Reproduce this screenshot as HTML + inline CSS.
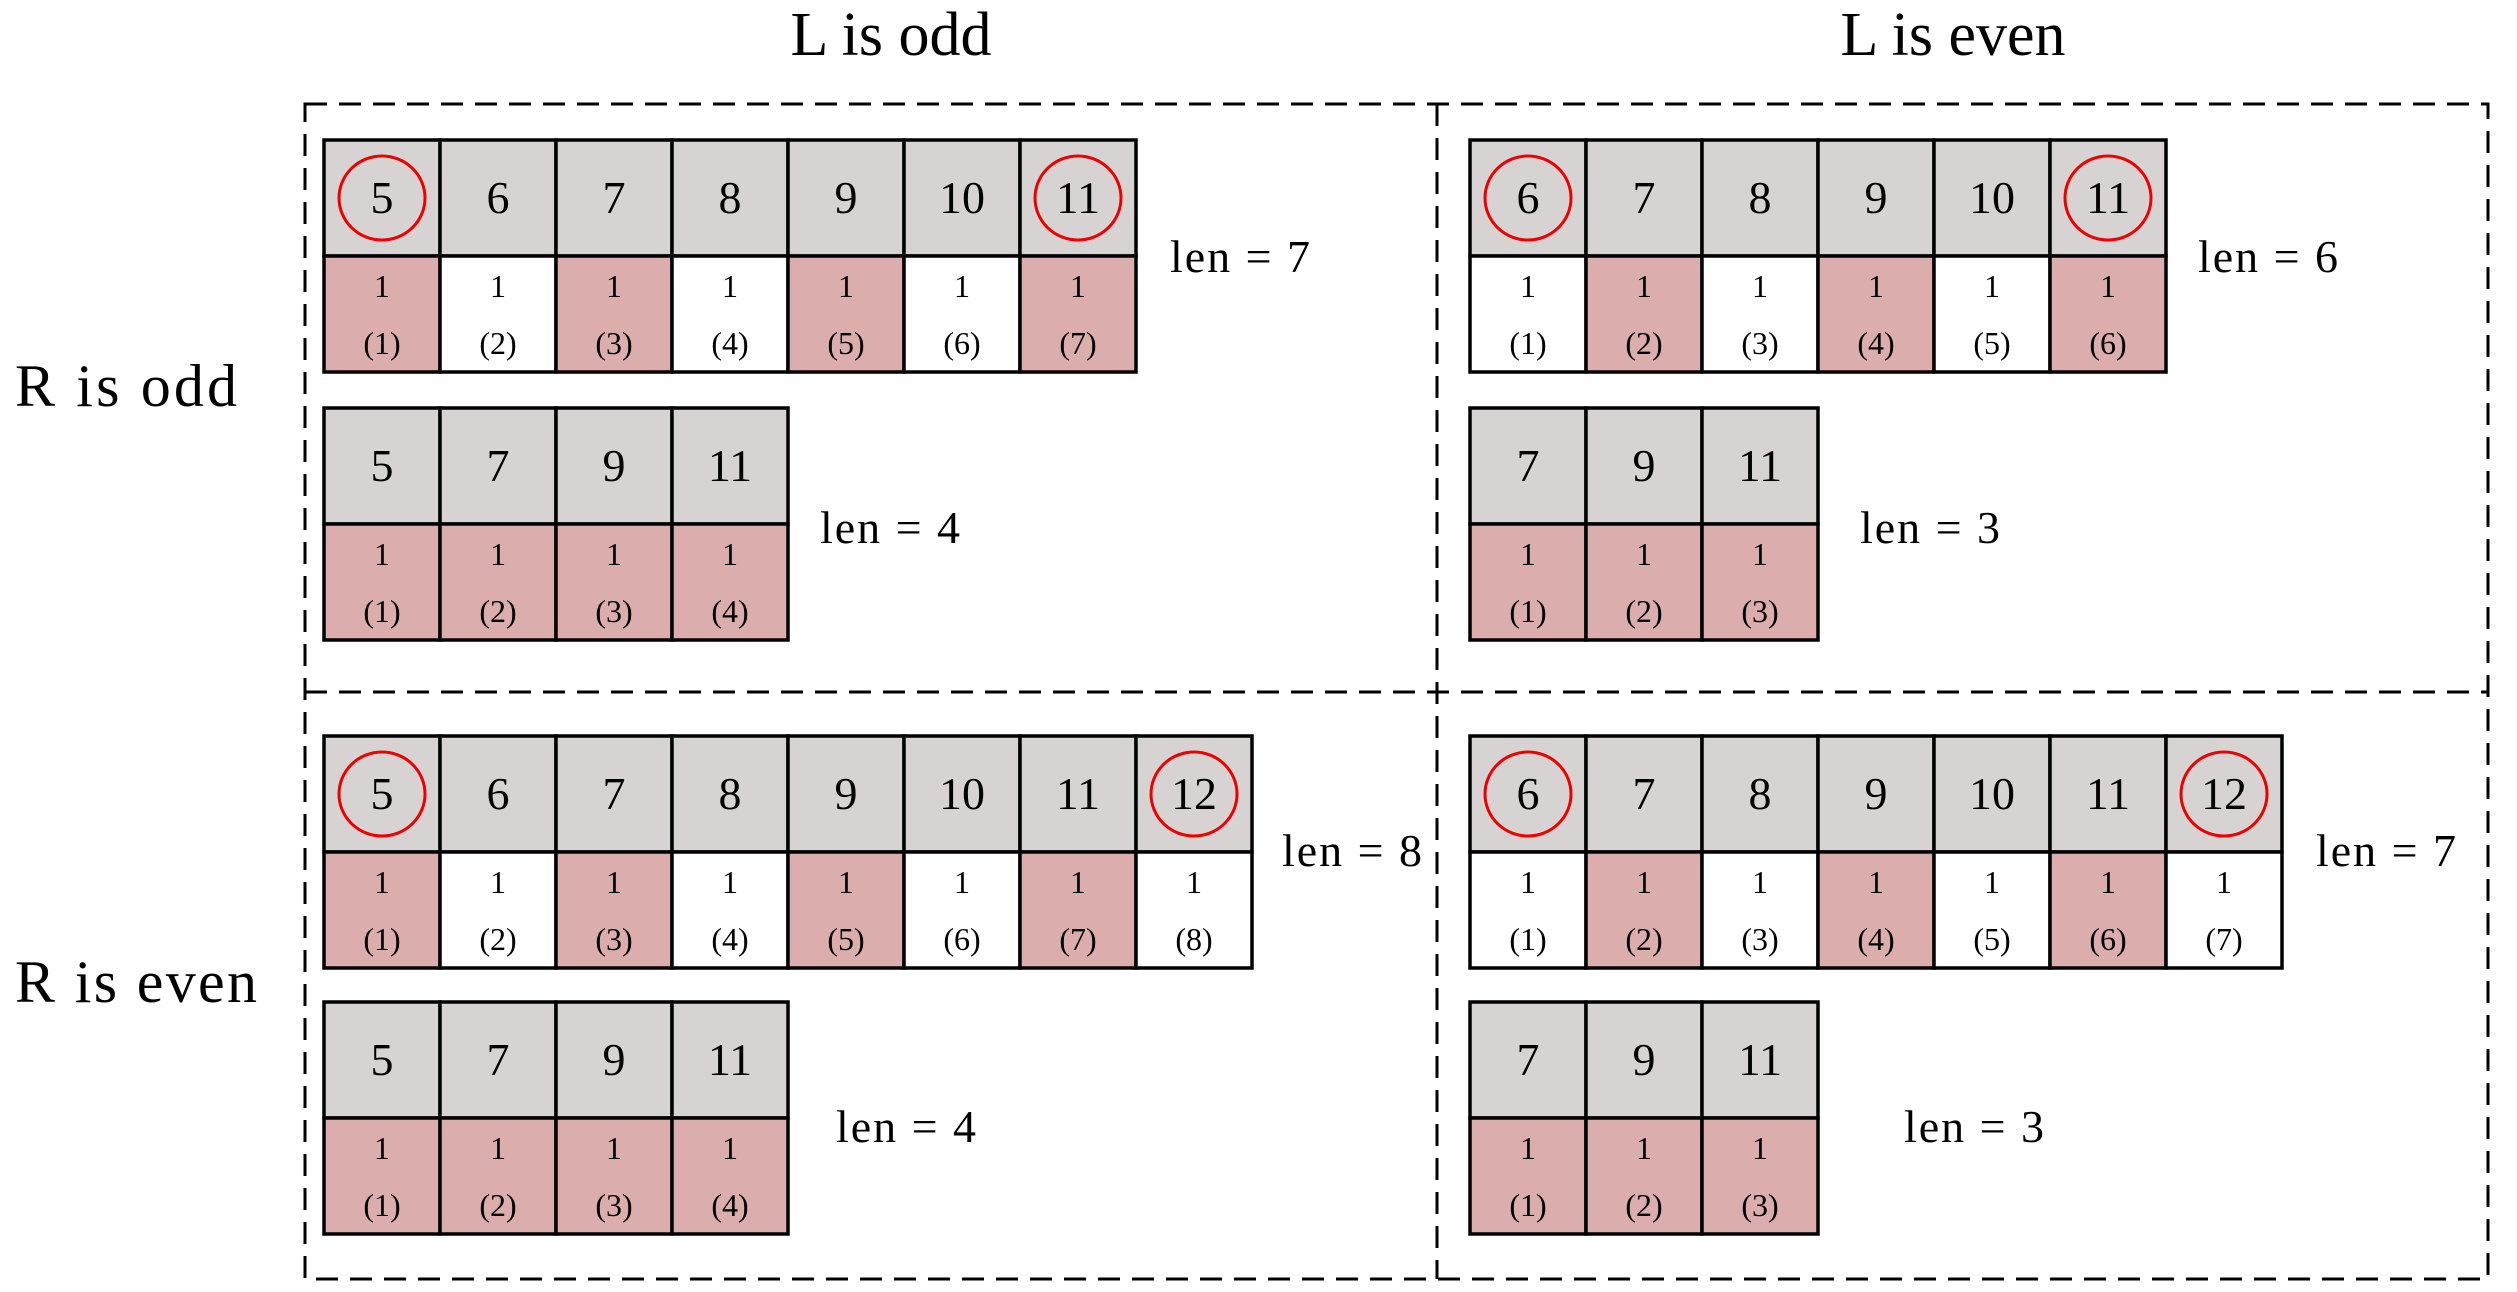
<!DOCTYPE html>
<html><head><meta charset="utf-8"><style>
html,body{margin:0;padding:0;background:#fff;}
svg{display:block;font-family:"Liberation Serif",serif;}
</style></head><body>
<svg id="fig" width="2517" height="1292" viewBox="0 0 2517 1292">
<g id="frame" fill="none" stroke="#000" stroke-width="3" stroke-dasharray="22,12">
<rect x="305" y="104" width="2183" height="1175"/>
<line x1="1437" y1="104" x2="1437" y2="1279"/>
<line x1="305" y1="692" x2="2488" y2="692"/>
</g>
<text x="891" y="55" font-size="62" text-anchor="middle">L is odd</text>
<text x="1953" y="55" font-size="62" text-anchor="middle">L is even</text>
<text x="15" y="406" font-size="60" textLength="222">R is odd</text>
<text x="15" y="1002" font-size="60" textLength="242">R is even</text>
<g id="tables"></g>
</svg>
<script>
const tableValues = [
  [5,6,7,8,9,10,11],[5,7,9,11],
  [6,7,8,9,10,11],[7,9,11],
  [5,6,7,8,9,10,11,12],[5,7,9,11],
  [6,7,8,9,10,11,12],[7,9,11]
];
const tableLens = [7,4,6,3,8,4,7,3];
const tableFirstPink = [true,true,false,true,true,true,false,true];
const tableCircled = [true,false,true,false,true,false,true,false];
const tableAnchors = [[324,140],[324,408],[1470,140],[1470,408],[324,736],[324,1002],[1470,736],[1470,1002]];
const lenLabelPos = [[1170,272],[820,543],[2198,272],[1860,543],[1282,866],[836,1142],[2316,866],[1904,1142]];
const NS="http://www.w3.org/2000/svg";
const CW=116, RH=116;
const g=document.getElementById('tables');
function mk(tag,attrs){const e=document.createElementNS(NS,tag);for(const k in attrs)e.setAttribute(k,attrs[k]);return e;}
tableValues.forEach((vals,t)=>{
  const [x0,y0]=tableAnchors[t];
  const tg=mk('g',{});
  
  
  vals.forEach((v,i)=>{
    const x=x0+i*CW;
    const top=mk('rect',{x:x,y:y0,width:CW,height:RH,fill:'#d8d3d3',stroke:'#000','stroke-width':3.5});
    
    
    tg.appendChild(top);
    const pink = tableFirstPink[t] ? (tableValues[t].length<=4 || i%2===0) : (i%2===1);
    const bot=mk('rect',{x:x,y:y0+RH,width:CW,height:RH,fill:pink?'#dcadad':'#fff',stroke:'#000','stroke-width':3.5});
    
    
    tg.appendChild(bot);
    const tv=mk('text',{x:x+CW/2,y:y0+73,'font-size':46,'text-anchor':'middle'});
    tv.textContent=v;
    
    
    tg.appendChild(tv);
    const one=mk('text',{x:x+CW/2,y:y0+RH+41,'font-size':32,'text-anchor':'middle'});
    one.textContent='1';
    
    
    tg.appendChild(one);
    const idx=mk('text',{x:x+CW/2,y:y0+RH+98,'font-size':32,'text-anchor':'middle'});
    idx.textContent='('+(i+1)+')';
    
    
    tg.appendChild(idx);
    if(tableCircled[t] && (i===0||i===vals.length-1)){
      const c=mk('ellipse',{cx:x+CW/2,cy:y0+RH/2,rx:43,ry:42,fill:'none',stroke:'#e00','stroke-width':3});
      
      
      tg.appendChild(c);
    }
  });
  const lab=mk('text',{x:lenLabelPos[t][0],y:lenLabelPos[t][1],'font-size':46,textLength:140});
  lab.textContent='len = '+tableLens[t];
  
  
  tg.appendChild(lab);
  g.appendChild(tg);
});
</script>
</body></html>
